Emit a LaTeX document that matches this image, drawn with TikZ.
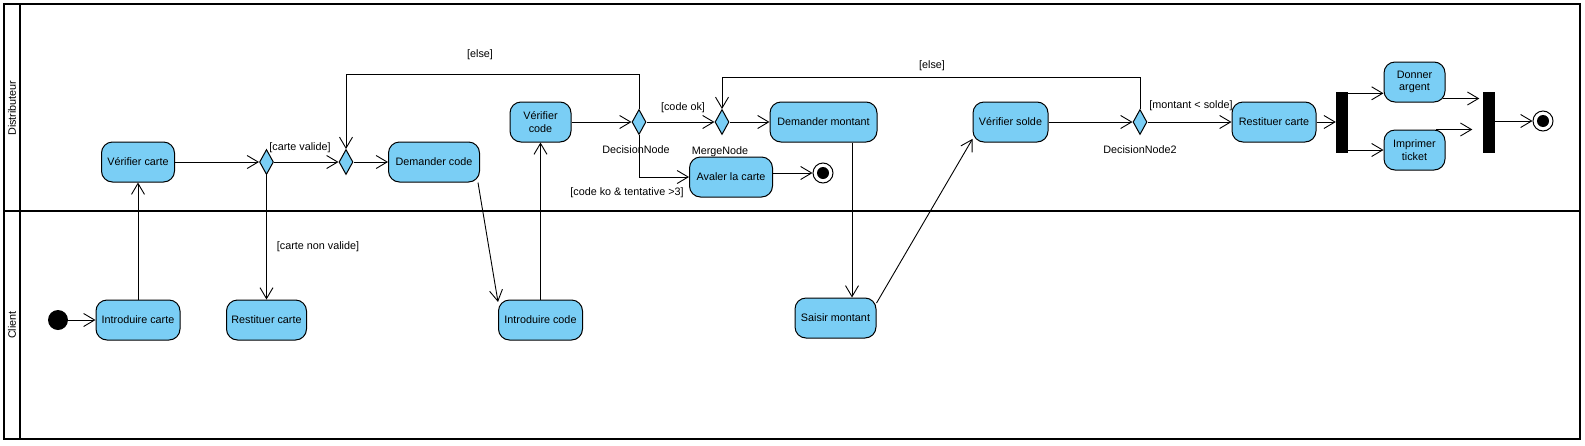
\documentclass[tikz,border=0pt]{standalone}
\usepackage{fontspec}
\setmainfont{Liberation Sans}
\usetikzlibrary{shapes.geometric,arrows.meta}
\definecolor{actblue}{RGB}{122,206,245}
\begin{document}
\begin{tikzpicture}[x=1pt,y=-1pt,
    font=\fontsize{10.8}{12.5}\selectfont,
    act/.style={draw, fill=actblue, rounded corners=11pt, line width=1pt, minimum height=40pt, inner sep=2pt, align=center},
    dec/.style={diamond, draw, fill=actblue, line width=1pt, minimum width=14pt, minimum height=25pt, inner sep=0pt},
    bar/.style={fill=black, minimum width=12pt, minimum height=61pt, inner sep=0pt},
    start/.style={circle, fill=black, minimum size=20pt, inner sep=0pt},
    final/.style={circle, draw, fill=white, line width=1pt, minimum size=20pt, inner sep=0pt,
        path picture={\fill[black] (path picture bounding box.center) circle (6pt);}},
    lbl/.style={inner sep=0pt},
    arr/.style={line width=0.9pt, -{Straight Barb[length=11pt,width=13pt,line width=0.9pt]}}]
    \useasboundingbox (0,0) rectangle (1585,445);
    % swimlanes
    \draw[line width=1.6pt] (4,4) rectangle (1580,439);
    \draw[line width=2.6pt] (20,4) -- (20,439);
    \draw[line width=2.6pt] (4,211) -- (1580,211);
    \node[rotate=90] (lane1) at (12,108) {Distributeur};
    \node[rotate=90] (lane2) at (12,325) {Client};
    % Distributeur
    \node[act, minimum width=73pt] (vc) at (138,162) {Vérifier carte};
    \node[dec] (d1) at (266.5,162) {};
    \node[dec] (m1) at (346,162) {};
    \node[act, minimum width=91pt] (dc) at (434,162) {Demander code};
    \node[act, minimum width=61pt] (vco) at (540.5,122) {Vérifier\\code};
    \node[dec] (dn) at (639,122) {};
    \node[dec] (mn) at (722,122) {};
    \node[act, minimum width=107pt] (dm) at (823.5,122) {Demander montant};
    \node[act, minimum width=83pt] (av) at (731,177) {Avaler la carte};
    \node[final] (f1) at (823,173) {};
    \node[act, minimum width=75pt] (vs) at (1010.5,122) {Vérifier solde};
    \node[dec] (d2) at (1140,122) {};
    \node[act, minimum width=84pt] (rc2) at (1274,122) {Restituer carte};
    \node[bar] (fork) at (1342,122) {};
    \node[act, minimum width=61pt] (da) at (1414.5,82) {Donner\\argent};
    \node[act, minimum width=61pt] (it) at (1414.5,150) {Imprimer\\ticket};
    \node[bar] (jn) at (1488.5,122) {};
    \node[final] (f2) at (1543,121) {};
    % Client
    \node[start] (init) at (58,320) {};
    \node[act, minimum width=84pt] (ic) at (138,320) {Introduire carte};
    \node[act, minimum width=80pt] (rc) at (266.5,320) {Restituer carte};
    \node[act, minimum width=84pt] (icd) at (540.5,320) {Introduire code};
    \node[act, minimum width=81pt] (sm) at (835.5,318) {Saisir montant};
    % labels
    \node[lbl] (l1) at (300,148) {[carte valide]};
    \node[lbl] (l2) at (318,247) {[carte non valide]};
    \node[lbl] (l3) at (480,55) {[else]};
    \node[lbl] (l4) at (683,108) {[code ok]};
    \node[lbl] (l5) at (627,193) {[code ko \& tentative >3]};
    \node[lbl] (l6) at (636,150) {DecisionNode};
    \node[lbl] (l7) at (720,152) {MergeNode};
    \node[lbl] (l8) at (932,66) {[else]};
    \node[lbl] (l9) at (1191,106) {[montant < solde]};
    \node[lbl] (l10) at (1140,150) {DecisionNode2};
    % flows
    \draw[arr] (init) -- (ic);
    \draw[arr] (ic) -- (vc);
    \draw[arr] (vc) -- (d1);
    \draw[arr] (d1) -- (m1);
    \draw[arr] (d1) -- (rc);
    \draw[arr] (m1) -- (dc);
    \draw[arr] (dc.335) -- (icd.157);
    \draw[arr] (icd) -- (vco);
    \draw[arr] (vco) -- (dn);
    \draw[arr] (dn) -- (mn);
    \draw[arr] (dn.north) -- ++(0,-35) -| (m1.north);
    \draw[arr] (dn.south) |- (av.west);
    \draw[arr] (av.east |- f1) -- (f1);
    \draw[arr] (mn) -- (dm);
    \draw[arr] ([xshift=28.5pt]dm.south) -- ([xshift=28.5pt]dm.south |- sm.north);
    \draw[arr] (sm.20) -- (vs.204);
    \draw[arr] (vs) -- (d2);
    \draw[arr] (d2.north) -- ++(0,-32) -| (mn.north);
    \draw[arr] (d2) -- (rc2);
    \draw[arr] (rc2) -- (fork);
    \draw[arr] ([yshift=-2pt]fork.north east) -- ([yshift=-2pt]fork.north east -| da.west);
    \draw[arr] (fork.east |- it) -- (it.west);
    \draw[arr] ([shift={(-3pt,4pt)}]da.south east) -- ([shift={(-3pt,4pt)}]da.south east -| jn.west);
    \draw[arr] ([xshift=-10pt]it.north east) -- ([xshift=-10pt]it.north east -| jn.west);
    \draw[arr] (jn.east |- f2) -- (f2);
\end{tikzpicture}
\end{document}
